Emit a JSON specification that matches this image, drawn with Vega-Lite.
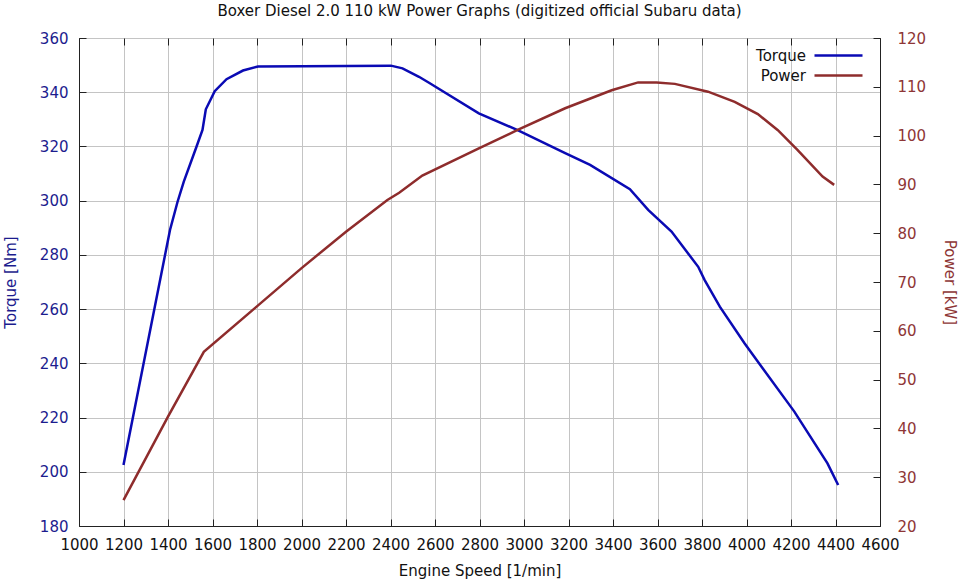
{
  "$schema": "https://vega.github.io/schema/vega-lite/v6.json",
  "autosize": "none",
  "width": 801,
  "height": 488,
  "padding": {"left": 79, "top": 38, "right": 80, "bottom": 60},
  "background": "white",
  "title": {
    "text": "Boxer Diesel 2.0 110 kW Power Graphs (digitized official Subaru data)",
    "font": "DejaVu Sans",
    "fontSize": 15,
    "fontWeight": "normal",
    "color": "#111111",
    "anchor": "middle",
    "offset": 12
  },
  "config": {
    "font": "DejaVu Sans",
    "view": {"stroke": "#222222", "strokeWidth": 1},
    "axis": {
      "labelFont": "DejaVu Sans",
      "labelFontSize": 15,
      "titleFont": "DejaVu Sans",
      "titleFontSize": 15,
      "titleFontWeight": "normal",
      "domainColor": "#222222",
      "tickColor": "#222222",
      "tickSize": -7,
      "gridColor": "#c4c4c4",
      "gridWidth": 1
    }
  },
  "data": {
    "values": [
      {"series": "Torque", "rpm": 1200, "value": 202.5},
      {"series": "Torque", "rpm": 1409, "value": 289.2},
      {"series": "Torque", "rpm": 1443, "value": 299.6},
      {"series": "Torque", "rpm": 1471, "value": 307.0},
      {"series": "Torque", "rpm": 1528, "value": 319.9},
      {"series": "Torque", "rpm": 1555, "value": 326.1},
      {"series": "Torque", "rpm": 1570, "value": 333.7},
      {"series": "Torque", "rpm": 1610, "value": 340.4},
      {"series": "Torque", "rpm": 1663, "value": 344.8},
      {"series": "Torque", "rpm": 1737, "value": 348.0},
      {"series": "Torque", "rpm": 1804, "value": 349.5},
      {"series": "Torque", "rpm": 2402, "value": 349.8},
      {"series": "Torque", "rpm": 2454, "value": 348.8},
      {"series": "Torque", "rpm": 2528, "value": 345.7},
      {"series": "Torque", "rpm": 2573, "value": 343.5},
      {"series": "Torque", "rpm": 2797, "value": 332.2},
      {"series": "Torque", "rpm": 2969, "value": 326.1},
      {"series": "Torque", "rpm": 3185, "value": 317.5},
      {"series": "Torque", "rpm": 3297, "value": 313.2},
      {"series": "Torque", "rpm": 3476, "value": 304.2},
      {"series": "Torque", "rpm": 3558, "value": 296.6},
      {"series": "Torque", "rpm": 3663, "value": 288.6},
      {"series": "Torque", "rpm": 3783, "value": 275.6},
      {"series": "Torque", "rpm": 3812, "value": 270.7},
      {"series": "Torque", "rpm": 3880, "value": 260.9},
      {"series": "Torque", "rpm": 3991, "value": 247.4},
      {"series": "Torque", "rpm": 4215, "value": 222.2},
      {"series": "Torque", "rpm": 4364, "value": 203.1},
      {"series": "Torque", "rpm": 4412, "value": 195.1},
      {"series": "Power", "rpm": 1200, "value": 25.3},
      {"series": "Power", "rpm": 1400, "value": 42.4},
      {"series": "Power", "rpm": 1561, "value": 55.7},
      {"series": "Power", "rpm": 1797, "value": 64.9},
      {"series": "Power", "rpm": 1999, "value": 72.8},
      {"series": "Power", "rpm": 2200, "value": 80.3},
      {"series": "Power", "rpm": 2386, "value": 86.8},
      {"series": "Power", "rpm": 2439, "value": 88.3},
      {"series": "Power", "rpm": 2543, "value": 91.8},
      {"series": "Power", "rpm": 2797, "value": 97.4},
      {"series": "Power", "rpm": 2969, "value": 101.1},
      {"series": "Power", "rpm": 3185, "value": 105.6},
      {"series": "Power", "rpm": 3394, "value": 109.3},
      {"series": "Power", "rpm": 3513, "value": 110.9},
      {"series": "Power", "rpm": 3596, "value": 110.9},
      {"series": "Power", "rpm": 3678, "value": 110.6},
      {"series": "Power", "rpm": 3827, "value": 109.0},
      {"series": "Power", "rpm": 3947, "value": 106.9},
      {"series": "Power", "rpm": 4051, "value": 104.4},
      {"series": "Power", "rpm": 4141, "value": 101.1},
      {"series": "Power", "rpm": 4230, "value": 97.0},
      {"series": "Power", "rpm": 4342, "value": 91.6},
      {"series": "Power", "rpm": 4394, "value": 89.9}
    ]
  },
  "layer": [
    {
      "transform": [{"filter": "datum.series === 'Torque'"}],
      "mark": {"type": "line", "strokeWidth": 2.5, "interpolate": "linear"},
      "encoding": {
        "x": {
          "field": "rpm", "type": "quantitative",
          "scale": {"domain": [1000, 4600], "nice": false, "zero": false},
          "axis": {
            "title": "Engine Speed [1/min]", "values": [1000,1200,1400,1600,1800,2000,2200,2400,2600,2800,3000,3200,3400,3600,3800,4000,4200,4400,4600],
            "labelPadding": 18, "titlePadding": 11, "labelColor": "#111111", "titleColor": "#111111",
            "grid": true, "labelFlush": false, "format": "d"
          }
        },
        "y": {
          "field": "value", "type": "quantitative",
          "scale": {"domain": [180, 360], "nice": false, "zero": false},
          "axis": {
            "title": "Torque [Nm]", "values": [180,200,220,240,260,280,300,320,340,360],
            "labelColor": "#1c1c8e", "titleColor": "#1c1c8e",
            "labelPadding": 18, "titlePadding": 21, "grid": true, "labelFlush": false
          }
        },
        "color": {
          "field": "series", "type": "nominal",
          "scale": {"domain": ["Torque", "Power"], "range": ["#0a0ab4", "#8e2c2c"]},
          "legend": {
            "title": null,
            "orient": "none",
            "legendX": 750,
            "legendY": 8,
            "symbolType": "M-3,0H3",
            "symbolSize": 256,
            "symbolStrokeWidth": 2.5,
            "labelFont": "DejaVu Sans",
            "labelFontSize": 15,
            "labelColor": "#111111",
            "labelAlign": "right",
            "labelOffset": -42,
            "rowPadding": 2
          }
        }
      }
    },
    {
      "transform": [{"filter": "datum.series === 'Power'"}],
      "mark": {"type": "line", "strokeWidth": 2.5, "interpolate": "linear"},
      "encoding": {
        "x": {
          "field": "rpm", "type": "quantitative",
          "axis": {
            "orient": "top", "title": null, "labels": false, "grid": false, "domain": false,
            "values": [1000,1200,1400,1600,1800,2000,2200,2400,2600,2800,3000,3200,3400,3600,3800,4000,4200,4400,4600]
          }
        },
        "y": {
          "field": "value", "type": "quantitative",
          "scale": {"domain": [20, 120], "nice": false, "zero": false},
          "axis": {
            "orient": "right", "title": "Power [kW]", "values": [20,30,40,50,60,70,80,90,100,110,120],
            "labelColor": "#8e3636", "titleColor": "#8e3636",
            "labelPadding": 24, "titlePadding": 16, "grid": false, "labelFlush": false
          }
        },
        "color": {"field": "series", "type": "nominal"}
      }
    }
  ],
  "resolve": {"scale": {"y": "independent"}, "axis": {"x": "independent"}}
}
